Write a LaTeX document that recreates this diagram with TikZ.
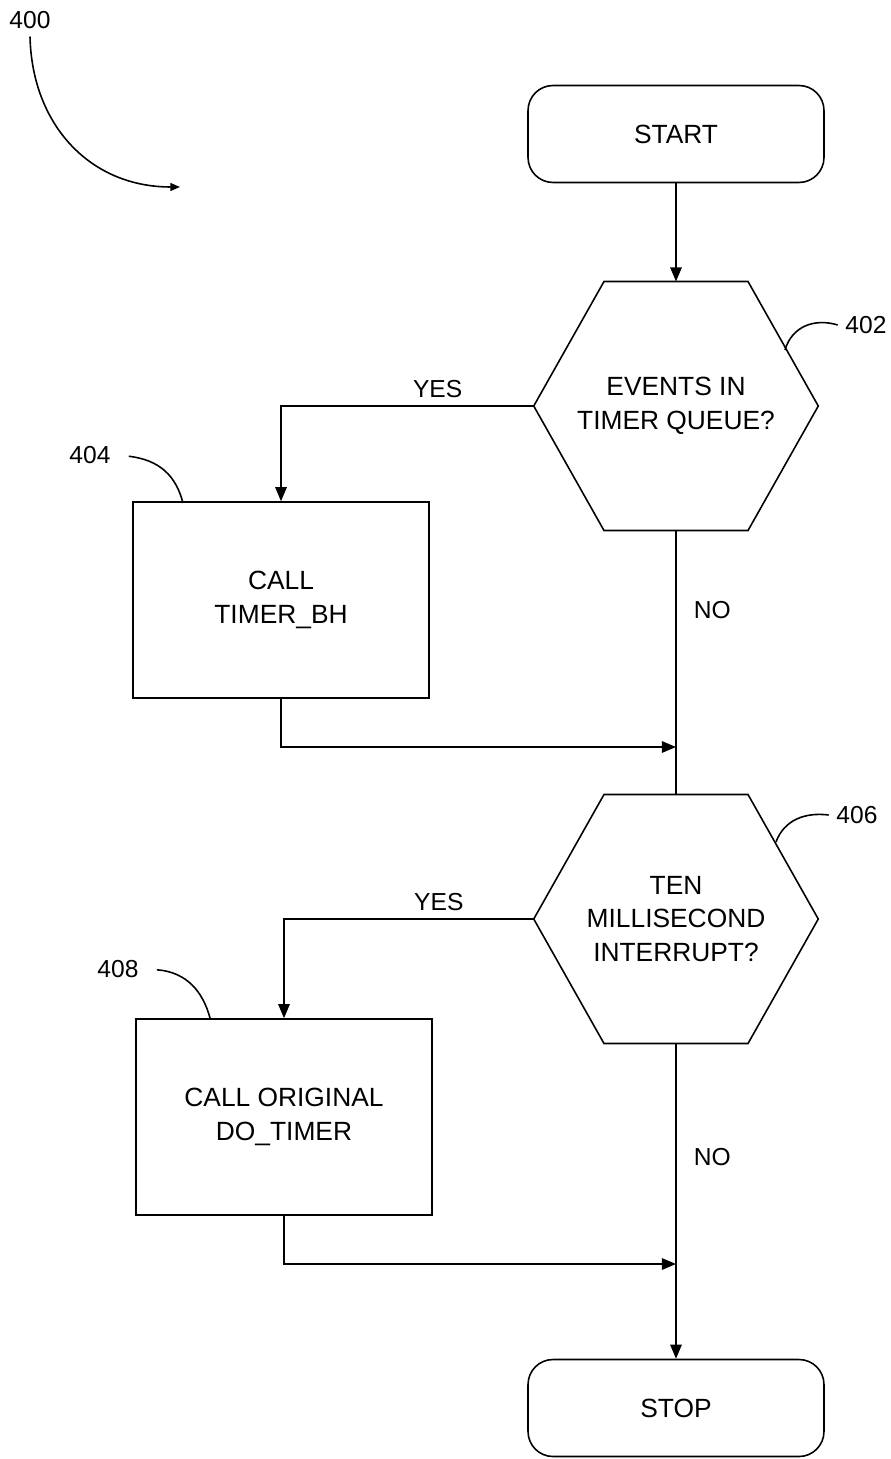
\documentclass[tikz,border=0pt]{standalone}
\usepackage{fontspec}
\setmainfont{Liberation Sans}
\usetikzlibrary{arrows.meta,calc}
\newcommand{\hexcond}[1]{\draw ($(#1.north)+(-72,0)$) -- ($(#1.north)+(72,0)$) -- (#1.east) -- ($(#1.south)+(72,0)$) -- ($(#1.south)+(-72,0)$) -- (#1.west) -- cycle;}
\begin{document}
\begin{tikzpicture}[x=0.02cm,y=-0.02cm,line width=0.9pt,>={Triangle[length=8pt,width=6.5pt]}]
    \tikzstyle{term}=[draw,rounded corners=0.5cm,minimum width=5.92cm,minimum height=1.94cm,font=\fontsize{15}{19.3}\selectfont]
    \tikzstyle{proc}=[draw,minimum width=5.92cm,minimum height=3.92cm,align=center,font=\fontsize{15}{19.3}\selectfont]
    \tikzstyle{cond}=[minimum width=5.66cm,minimum height=4.95cm,inner sep=0,align=center,font=\fontsize{15}{19.3}\selectfont]
    \tikzstyle{tag}=[inner sep=4pt,font=\fontsize{14}{17}\selectfont]

    \useasboundingbox (0,0) rectangle (891,1459);

    \node[term](start) at (676,134){START};
    \node[cond](q1) at (676,406){EVENTS IN\\TIMER QUEUE?};
    \node[proc](b1) at (281,600){CALL\\TIMER\_BH};
    \node[cond](q2) at (676,919){TEN\\MILLISECOND\\INTERRUPT?};
    \node[proc](b2) at (284,1117){CALL ORIGINAL\\DO\_TIMER};
    \node[term](stop) at (676,1408){STOP};
    \hexcond{q1}
    \hexcond{q2}
    \coordinate (m1) at (676,747);
    \coordinate (m2) at (676,1264);

    \draw [->] (start) -- (q1);
    \draw [->] (q1.west) -| node[tag,above,pos=0.19]{YES} (b1.north);
    \draw (q1.south) -- node[tag,right,pos=0.3,xshift=0.2cm]{NO} (q2.north);
    \draw [->] (b1.south) |- (m1);
    \draw [->] (q2.west) -| node[tag,above,pos=0.19]{YES} (b2.north);
    \draw [->] (q2.south) -- node[tag,right,pos=0.36,xshift=0.2cm]{NO} (stop.north);
    \draw [->] (b2.south) |- (m2);

    % reference numerals
    \node[tag](l400) at (30,20){400};
    \node[tag](l402) at (866,325){402};
    \node[tag](l404) at (90,455){404};
    \node[tag](l406) at (857,815){406};
    \node[tag](l408) at (118,969){408};
    \coordinate (a400) at (180,187);
    \coordinate (t402) at (785,350);
    \coordinate (t404) at (183,503);
    \coordinate (t406) at (776,842);
    \coordinate (t408) at (210,1018);

    \draw [-{Triangle[length=5.5pt,width=4.5pt]}] (l400.south) .. controls (32,125) and (90,187) .. (a400);
    \draw (t402) .. controls (792,326) and (815,318) .. (l402.west);
    \draw (t406) .. controls (784,820) and (805,812) .. (l406.west);
    \draw [shorten >=6pt] (t404) .. controls (176,476) and (160,460) .. (l404.east);
    \draw [shorten >=6pt] (t408) .. controls (203,992) and (187,972) .. (l408.east);
\end{tikzpicture}
\end{document}
